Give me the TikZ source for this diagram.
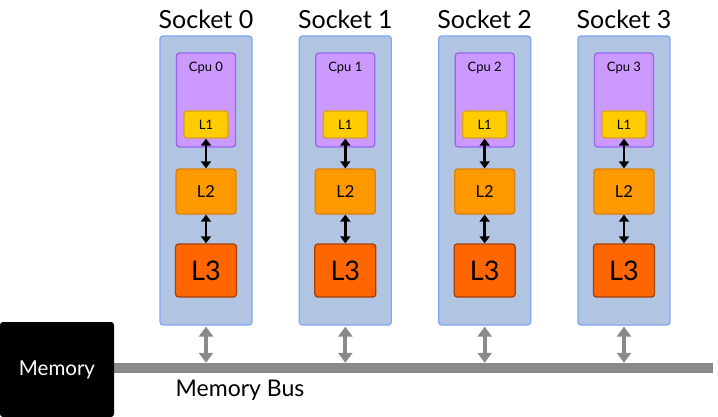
\documentclass[tikz,border=0pt]{standalone}
\usepackage{fontspec}
\setmainfont{Lato}
\usetikzlibrary{arrows.meta}
\definecolor{sockfill}{HTML}{B1C4E2}
\definecolor{sockdraw}{HTML}{7FA8F5}
\definecolor{cpufill}{HTML}{CC99FF}
\definecolor{cpudraw}{HTML}{9966F0}
\definecolor{lonefill}{HTML}{FFCC00}
\definecolor{lonedraw}{HTML}{D9A21B}
\definecolor{ltwofill}{HTML}{FF9900}
\definecolor{ltwodraw}{HTML}{D9800F}
\definecolor{lthreefill}{HTML}{FF6600}
\definecolor{lthreedraw}{HTML}{A0400D}
\definecolor{busgray}{HTML}{8A8A8A}
\tikzset{
  box/.style={rectangle, rounded corners=3pt, line width=1.3pt, inner sep=0pt},
  sockbox/.style={box, fill=sockfill, draw=sockdraw, minimum width=92pt, minimum height=289pt},
  cpubox/.style={box, fill=cpufill, draw=cpudraw, minimum width=59pt, minimum height=94pt},
  loneb/.style={box, fill=lonefill, draw=lonedraw, minimum width=44pt, minimum height=27pt, font=\fontsize{13}{13}\selectfont},
  ltwob/.style={box, fill=ltwofill, draw=ltwodraw, minimum width=60pt, minimum height=45pt, font=\fontsize{16.5}{16.5}\selectfont},
  lthreeb/.style={box, fill=lthreefill, draw=lthreedraw, minimum width=61pt, minimum height=53pt, font=\fontsize{27}{27}\selectfont},
  blackarrow/.style={{Triangle[length=7pt,width=10pt]}-{Triangle[length=7pt,width=10pt]}, line width=2.5pt, black},
  grayarrow/.style={{Triangle[length=10pt,width=14pt]}-{Triangle[length=10pt,width=14pt]}, line width=4pt, busgray},
  title/.style={font=\fontsize{25}{25}\selectfont},
}
\begin{document}
\begin{tikzpicture}[x=1pt,y=-1pt]
\useasboundingbox (0,0) rectangle (718,417);
\node[rectangle, fill=busgray, minimum width=600pt, minimum height=10pt, inner sep=0pt] (bus) at (413,368) {};
\node[box, fill=black, minimum width=114pt, minimum height=95pt, text=white, font=\fontsize{20.5}{20.5}\selectfont] (mem) at (57,369.5) {Memory};
\node[font=\fontsize{23}{23}\selectfont] (busl) at (240,390) {Memory Bus};
\foreach \i in {0,1,2,3} {
  \pgfmathsetmacro{\cx}{206+139.33*\i}
  \node[sockbox] (sock\i) at (\cx,180.5) {};
  \node[title] (st\i) at (\cx,19) {Socket \i};
  \node[cpubox] (cpu\i) at (\cx,100) {};
  \node[anchor=north, font=\fontsize{13}{13}\selectfont, inner sep=0pt] (cl\i) at ([yshift=-10pt]cpu\i.north) {Cpu \i};
  \node[loneb] (lone\i) at (\cx,124.5) {L1};
  \node[ltwob] (ltwo\i) at (\cx,191.5) {L2};
  \node[lthreeb] (lthree\i) at (\cx,270.5) {L3};
  \draw[blackarrow] (lone\i.south) -- (ltwo\i.north);
  \draw[blackarrow] (ltwo\i.south) -- (lthree\i.north);
  \draw[grayarrow] ([yshift=-1pt]sock\i.south) -- (sock\i.south |- bus.north);
}
\end{tikzpicture}
\end{document}
